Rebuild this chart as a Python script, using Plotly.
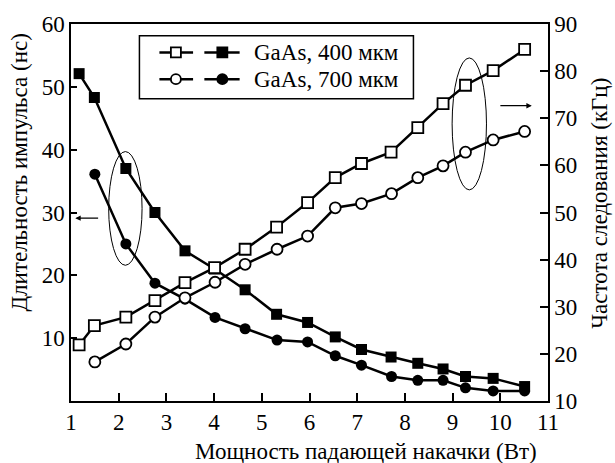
import plotly.graph_objects as go

# ---- data ----
power_400 = [1.17, 1.49, 2.15, 2.76, 3.39, 4.01, 4.65, 5.31, 5.96, 6.54, 7.09, 7.71, 8.27, 8.80, 9.27, 9.85, 10.51]
pulse_400 = [52.1, 48.3, 37.0, 30.0, 23.9, 21.0, 17.7, 13.8, 12.5, 10.2, 8.2, 7.0, 6.0, 5.1, 3.9, 3.6, 2.3]
freq_400 = [21.9, 26.0, 27.8, 31.3, 35.1, 38.3, 42.2, 46.9, 52.1, 57.4, 60.4, 62.8, 68.0, 73.1, 77.0, 80.1, 84.6]

power_700 = [1.50, 2.15, 2.76, 3.39, 4.02, 4.65, 5.32, 5.96, 6.54, 7.09, 7.72, 8.27, 8.80, 9.27, 9.85, 10.51]
pulse_700 = [36.1, 25.0, 18.75, 16.2, 13.3, 11.5, 9.7, 9.4, 7.2, 5.7, 3.9, 3.3, 3.3, 2.1, 1.6, 1.6]
freq_700 = [18.3, 22.1, 27.8, 31.9, 35.2, 39.0, 42.2, 45.0, 51.0, 51.9, 54.0, 57.4, 59.9, 62.8, 65.4, 67.2]

x_ticks = [1, 2, 3, 4, 5, 6, 7, 8, 9, 10, 11]
left_ticks = [10, 20, 30, 40, 50, 60]
right_ticks = [10, 20, 30, 40, 50, 60, 70, 80, 90]

legend_labels = ["GaAs, 400 мкм", "GaAs, 700 мкм"]
x_title = "Мощность падающей накачки (Вт)"
left_title = "Длительность импульса (нс)"
right_title = "Частота следования (кГц)"

FONT = "Liberation Serif"
W, H = 615, 463
PL, PR, PT, PB = 70.5, 548.0, 17.0, 401.5


def px(x):
    return (x - PL) / (PR - PL)


def py(y):
    return (PB - y) / (PB - PT)


fig = go.Figure()

line_style = dict(color="black", width=2.5)

# filled (pulse duration, left axis)
fig.add_trace(go.Scatter(x=power_400, y=pulse_400, mode="lines+markers", line=line_style,
                         marker=dict(symbol="square", size=11, color="black"), yaxis="y", showlegend=False))
fig.add_trace(go.Scatter(x=power_700, y=pulse_700, mode="lines+markers", line=line_style,
                         marker=dict(symbol="circle", size=11, color="black"), yaxis="y", showlegend=False))
# open (frequency, right axis)
fig.add_trace(go.Scatter(x=power_400, y=freq_400, mode="lines+markers", line=line_style,
                         marker=dict(symbol="square", size=11, color="white", line=dict(color="black", width=1.8)),
                         yaxis="y2", showlegend=False))
fig.add_trace(go.Scatter(x=power_700, y=freq_700, mode="lines+markers", line=line_style,
                         marker=dict(symbol="circle", size=11, color="white", line=dict(color="black", width=1.8)),
                         yaxis="y2", showlegend=False))

shapes = []
annotations = []

# ellipses grouping the curves
shapes.append(dict(type="circle", xref="x", yref="y", x0=1.79, x1=2.49, y0=21.6, y1=39.7,
                   line=dict(color="black", width=1)))
shapes.append(dict(type="circle", xref="x", yref="y", x0=8.99, x1=9.71, y0=33.6, y1=54.6,
                   line=dict(color="black", width=1)))

# arrows
annotations.append(dict(x=1.09, y=29.1, ax=1.60, ay=29.1, xref="x", yref="y", axref="x", ayref="y",
                        text="", showarrow=True, arrowhead=2, arrowsize=0.9, arrowwidth=1.2, arrowcolor="black"))
annotations.append(dict(x=10.66, y=47.0, ax=9.97, ay=47.0, xref="x", yref="y", axref="x", ayref="y",
                        text="", showarrow=True, arrowhead=2, arrowsize=0.9, arrowwidth=1.2, arrowcolor="black"))

# legend box
shapes.append(dict(type="rect", xref="paper", yref="paper", x0=px(139), x1=px(413.3), y0=py(93.3), y1=py(29),
                   line=dict(color="black", width=1.5), fillcolor="white", layer="below"))
rows = [46, 73.3]
symbols = ["rect", "circle"]
for r, lab, sym in zip(rows, legend_labels, symbols):
    for (lx0, lx1, mx, fill) in [(159, 192.7, 175.5, "white"), (204, 239.3, 222, "black")]:
        shapes.append(dict(type="line", xref="paper", yref="paper", x0=px(lx0), x1=px(lx1), y0=py(r), y1=py(r),
                           line=dict(color="black", width=2.5)))
        shapes.append(dict(type=sym, xref="paper", yref="paper", xsizemode="pixel", ysizemode="pixel",
                           xanchor=px(mx), yanchor=py(r), x0=-5, x1=5, y0=-5, y1=5,
                           fillcolor=fill, line=dict(color="black", width=1.8)))
    annotations.append(dict(x=px(252), y=py(r), xref="paper", yref="paper", text=lab, showarrow=False,
                            xanchor="left", yanchor="middle", font=dict(family=FONT, size=23)))

# axis titles
annotations.append(dict(x=px(366), y=py(453), xref="paper", yref="paper", text=x_title, showarrow=False,
                        xanchor="center", yanchor="middle", font=dict(family=FONT, size=23)))
annotations.append(dict(x=px(18), y=py(168), xref="paper", yref="paper", text=left_title, showarrow=False,
                        textangle=-90, xanchor="center", yanchor="middle", font=dict(family=FONT, size=23)))
annotations.append(dict(x=px(614), y=py(200), xref="paper", yref="paper", text=right_title, showarrow=False,
                        textangle=-90, xanchor="right", yanchor="middle", font=dict(family=FONT, size=23)))

axis_common = dict(showgrid=False, zeroline=False, showline=True, linecolor="black", linewidth=1.5,
                   ticks="inside", tickcolor="black", tickwidth=1.5,
                   tickfont=dict(family=FONT, size=23))

fig.update_layout(
    width=W, height=H,
    margin=dict(l=PL, r=W - PR, t=PT, b=H - PB, pad=0),
    paper_bgcolor="white", plot_bgcolor="white",
    font=dict(family=FONT, color="black"),
    xaxis=dict(range=[1, 11], tickvals=x_ticks, ticklen=8, mirror=True, **axis_common),
    yaxis=dict(range=[0, 60], tickvals=left_ticks, ticklen=6, **axis_common),
    yaxis2=dict(range=[10, 90], tickvals=right_ticks, ticklen=8, overlaying="y", side="right", **axis_common),
    shapes=shapes,
    annotations=annotations,
    showlegend=False,
)

fig.write_html("out.html")
